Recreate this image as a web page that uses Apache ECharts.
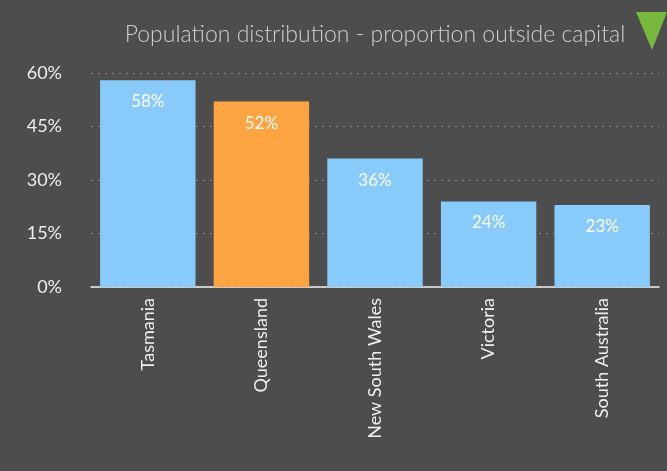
<!DOCTYPE html>
<html>
<head>
<meta charset="utf-8">
<script src="https://cdn.jsdelivr.net/npm/echarts@6/dist/echarts.min.js"></script>
<style>
  html, body { margin: 0; padding: 0; background: #4d4d4d; }
  #chart { width: 667px; height: 471px; }
</style>
</head>
<body>
<div id="chart"></div>
<script>
const states = ["Tasmania", "Queensland", "New South Wales", "Victoria", "South Australia"];
const outsideCapital = [58, 52, 36, 24, 23];
const highlightState = "Queensland";
const yTicks = [0, 15, 30, 45, 60];

const chart = echarts.init(document.getElementById("chart"));
const labelFont = "Lato, 'Open Sans', sans-serif";

const option = {
  backgroundColor: "#4d4d4d",
  animation: false,
  title: {
    text: "Population distribution - proportion outside capital",
    left: 370,
    top: 18,
    textAlign: "center",
    textStyle: {
      color: "#cfcfcf",
      fontFamily: labelFont,
      fontWeight: 300,
      fontSize: 23
    }
  },
  graphic: [
    {
      type: "polygon",
      shape: { points: [[636, 12], [667, 12], [652, 50]] },
      style: { fill: "#78b83e" }
    }
  ],
  grid: { left: 91, right: 8, top: 73, bottom: 184 },
  xAxis: {
    type: "category",
    data: states,
    axisLine: { lineStyle: { color: "#f0f0f0", width: 1.5 } },
    axisTick: { show: false },
    axisLabel: {
      rotate: 90,
      color: "#eeeeee",
      fontFamily: labelFont,
      fontSize: 18,
      margin: 11
    }
  },
  yAxis: {
    type: "value",
    min: yTicks[0],
    max: yTicks[yTicks.length - 1],
    interval: 15,
    axisLine: { show: false },
    axisTick: { show: false },
    axisLabel: {
      formatter: "{value}%",
      color: "#eeeeee",
      fontFamily: labelFont,
      fontSize: 18,
      margin: 29
    },
    splitLine: {
      lineStyle: { color: "#8a8a8a", type: [2, 5], width: 1 }
    }
  },
  series: [
    {
      type: "bar",
      barCategoryGap: "16%",
      data: states.map((s, i) => ({
        value: outsideCapital[i],
        itemStyle: { color: s === highlightState ? "#ffa442" : "#88caf9" }
      })),
      label: {
        show: true,
        position: "insideTop",
        distance: 13,
        formatter: "{c}%",
        color: "#ffffff",
        fontFamily: labelFont,
        fontSize: 17
      }
    }
  ]
};

chart.setOption(option);
</script>
</body>
</html>
